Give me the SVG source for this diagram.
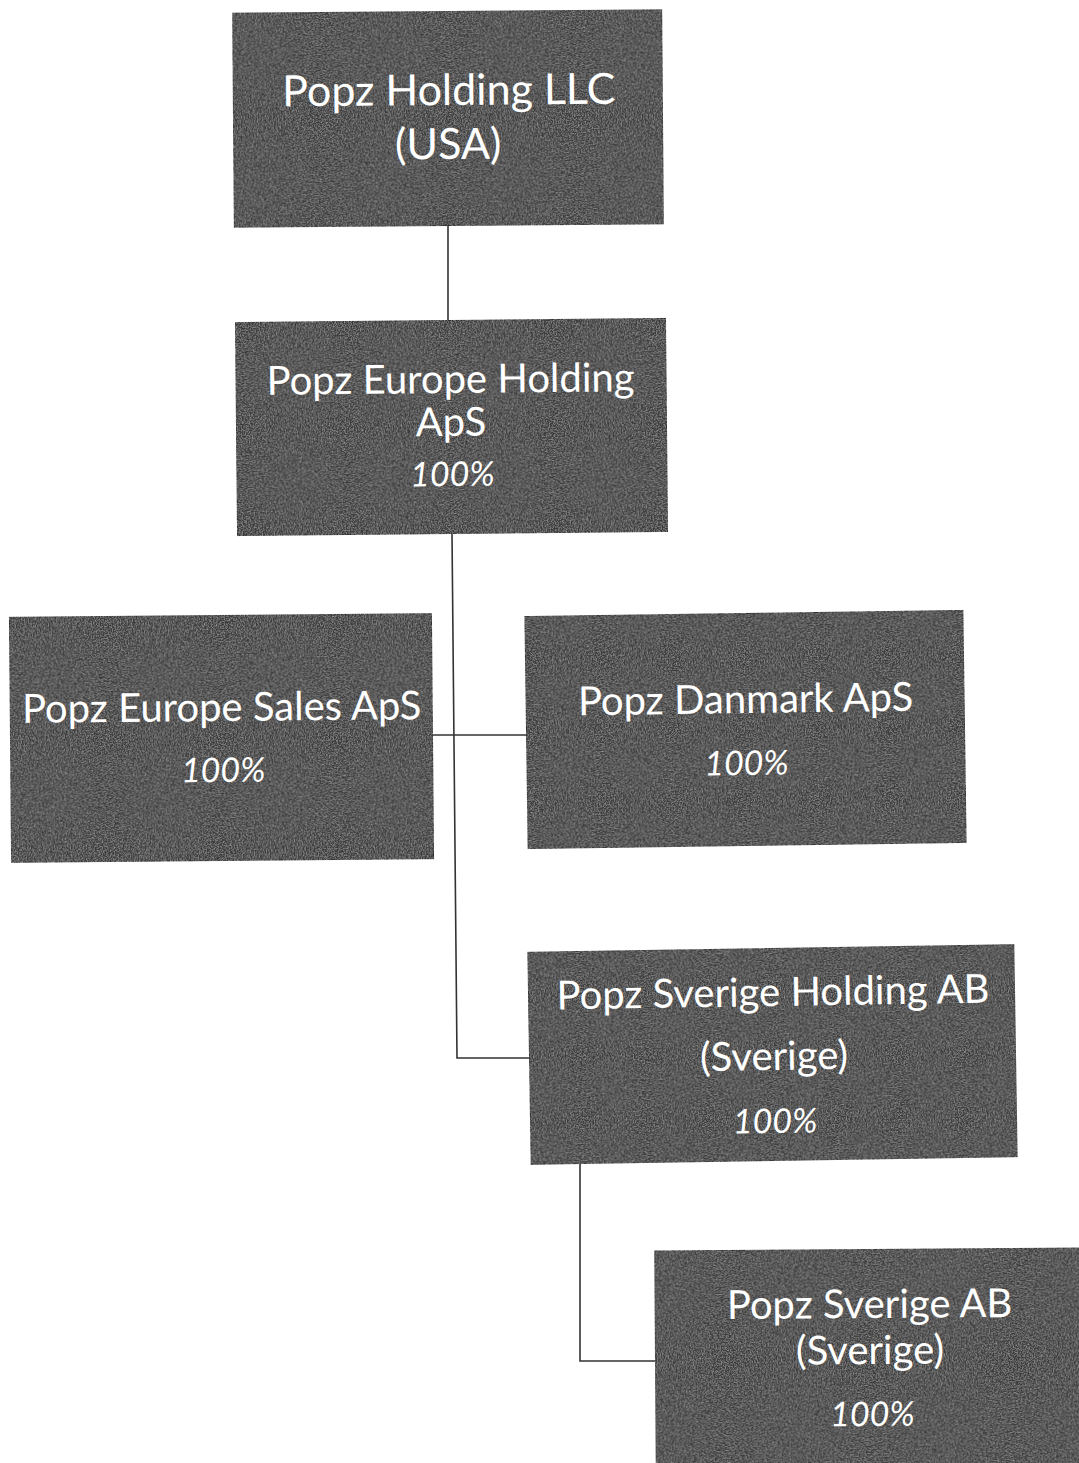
<svg xmlns="http://www.w3.org/2000/svg" width="1079" height="1463" viewBox="0 0 1079 1463">
<style>
.box{fill:#3b3b3b;stroke:#2a2a2a;stroke-width:1.5;filter:url(#grain)}
.t{font-family:Lato,"Open Sans","Liberation Sans",sans-serif;fill:#ffffff;text-anchor:middle}
.n{font-size:40px}
.big{font-size:43px}
.p{font-size:34px;font-style:italic}
.c{fill:none;stroke:#333333;stroke-width:1.6}
</style>
<defs>
<filter id="grain" x="0" y="0" width="1" height="1">
<feTurbulence type="fractalNoise" baseFrequency="0.75" numOctaves="2" seed="4" result="t"/>
<feColorMatrix in="t" type="matrix" values="0 0 0 0 0.85  0 0 0 0 0.85  0 0 0 0 0.85  0.7 0 0 0 -0.28" result="w"/>
<feComposite in="w" in2="SourceGraphic" operator="in" result="wn"/>
<feMerge><feMergeNode in="SourceGraphic"/><feMergeNode in="wn"/></feMerge>
</filter>
</defs>
<rect width="1079" height="1463" fill="#ffffff"/>
<g id="connectors">
<path class="c" d="M448 226 V320"/>
<path class="c" d="M452 534 L457 1058 H530"/>
<path class="c" d="M432 735 H527"/>
<path class="c" d="M580 1162 V1361 H656"/>
</g>
<g id="n1" transform="rotate(-0.45 448 118)">
<rect class="box" x="233" y="11" width="430" height="215"/>
<text class="t big" x="449" y="105">Popz Holding LLC</text>
<text class="t big" x="448" y="159">(USA)</text>
</g>
<g id="n2" transform="rotate(-0.55 451 427)">
<rect class="box" x="236" y="320" width="431" height="214"/>
<text class="t n"><tspan x="451" y="393">Popz Europe Holding</tspan><tspan x="451" y="436">ApS</tspan></text>
<text class="t p" x="452" y="486">100%</text>
</g>
<g id="n3" transform="rotate(-0.5 221 738)">
<rect class="box" x="10" y="615" width="423" height="246"/>
<text class="t n" x="222" y="721">Popz Europe Sales ApS</text>
<text class="t p" x="223" y="782">100%</text>
</g>
<g id="n4" transform="rotate(-0.8 745 729)">
<rect class="box" x="526" y="613" width="439" height="233"/>
<text class="t n" x="746" y="713">Popz Danmark ApS</text>
<text class="t p" x="746" y="775">100%</text>
</g>
<g id="n5" transform="rotate(-0.9 772 1055)">
<rect class="box" x="529" y="948" width="487" height="213"/>
<text class="t n" x="774" y="1006">Popz Sverige Holding AB</text>
<text class="t n" x="774" y="1070">(Sverige)</text>
<text class="t p" x="774" y="1133">100%</text>
</g>
<g id="n6" transform="rotate(-0.4 870 1360)">
<rect class="box" x="655" y="1249" width="432" height="230"/>
<text class="t n" x="870" y="1318">Popz Sverige AB</text>
<text class="t n" x="870" y="1364">(Sverige)</text>
<text class="t p" x="872" y="1426">100%</text>
</g>
</svg>
